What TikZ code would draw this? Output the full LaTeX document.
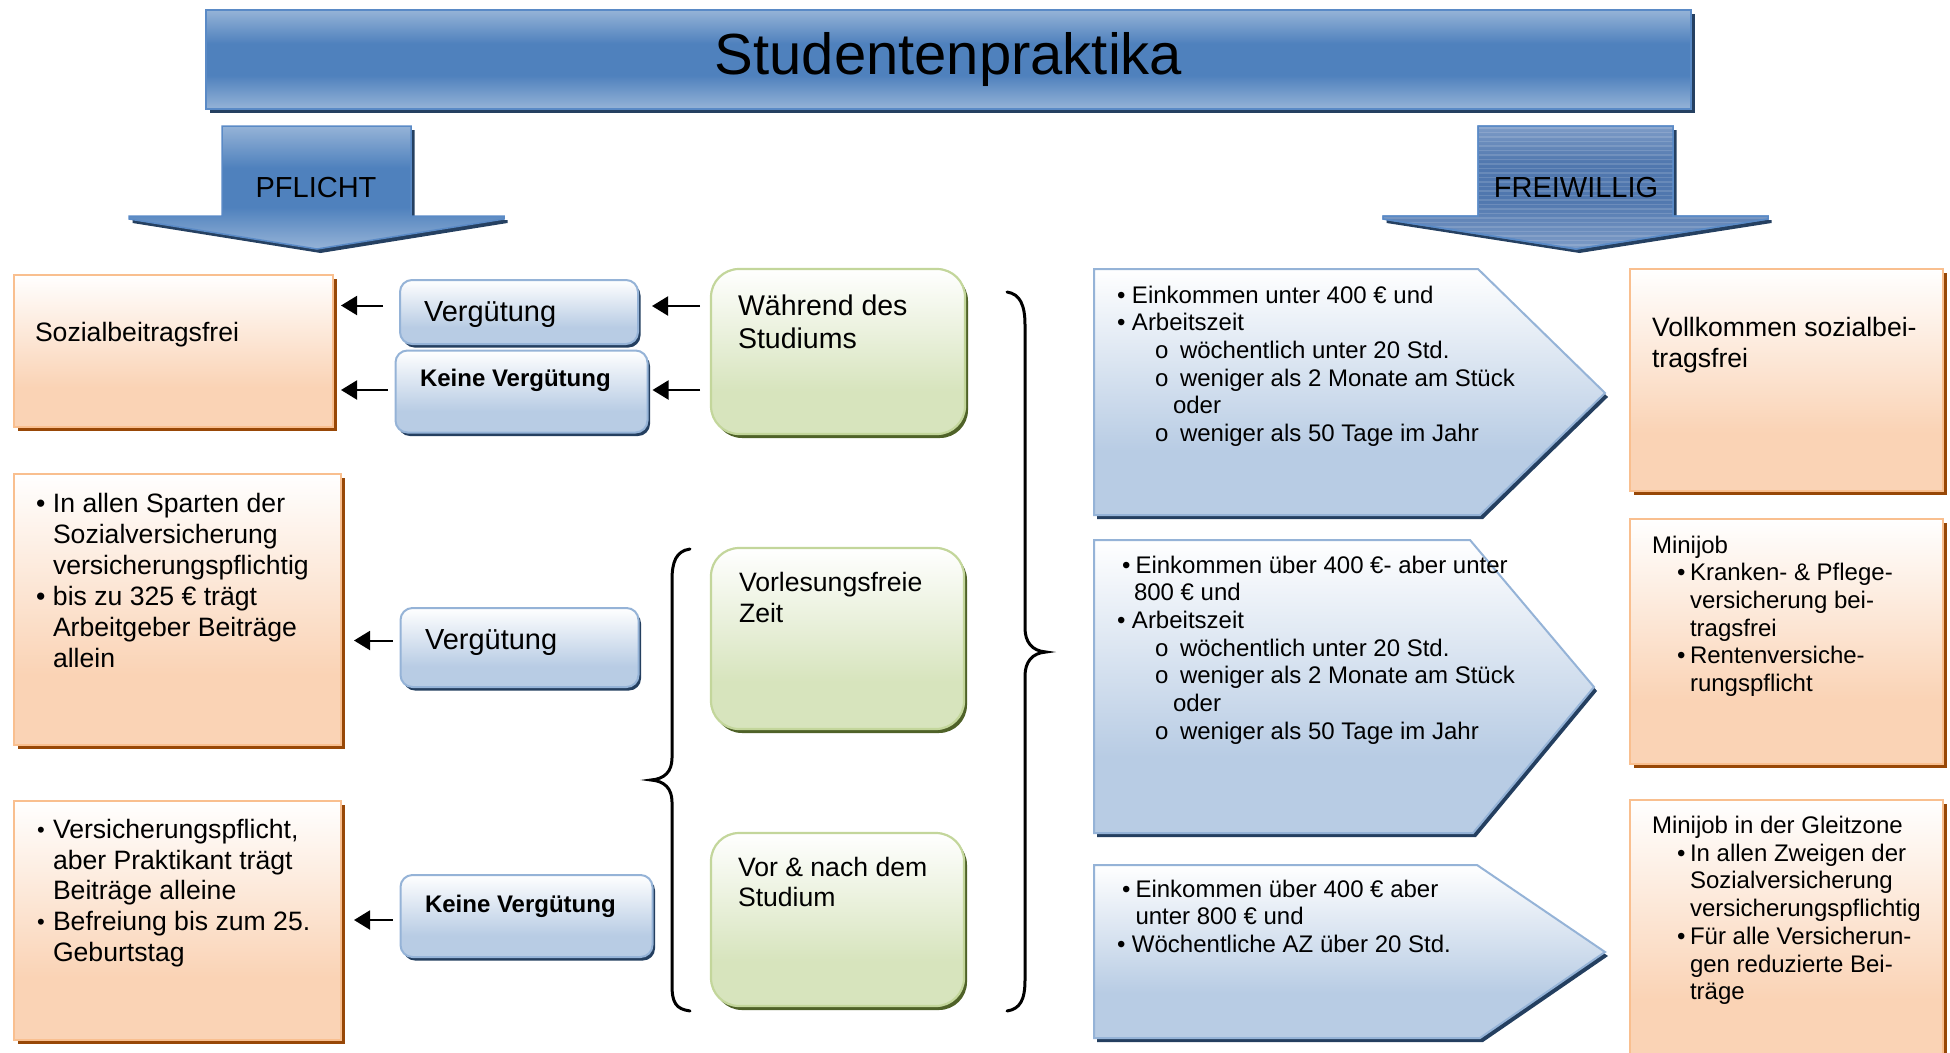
\documentclass[tikz,border=0pt]{standalone}
\usepackage{fontspec}
\setmainfont{Liberation Sans}
\usetikzlibrary{arrows.meta,shadows,calc}
\definecolor{bLight}{HTML}{95B3D7}
\definecolor{bDark}{HTML}{4F81BD}
\definecolor{bEdge}{HTML}{5A8AC6}
\definecolor{bShadow}{HTML}{254061}
\definecolor{frLight}{HTML}{7E9CC7}
\definecolor{frDark}{HTML}{5077AE}
\definecolor{oFill}{HTML}{FAD3B5}
\definecolor{oEdge}{HTML}{F9BF8F}
\definecolor{oShadow}{HTML}{984807}
\definecolor{pFill}{HTML}{B8CCE4}
\definecolor{pEdge}{HTML}{95B3D7}
\definecolor{pShadow}{HTML}{243F60}
\definecolor{gFill}{HTML}{D7E4BD}
\definecolor{gEdge}{HTML}{C3D69B}
\definecolor{gShadow}{HTML}{4F6228}
\pgfdeclareverticalshading{titleshade}{100bp}{color(0bp)=(bLight); color(25bp)=(bLight); color(42bp)=(bDark); color(58bp)=(bDark); color(75bp)=(bLight); color(100bp)=(bLight)}
\pgfdeclareverticalshading{frshade}{100bp}{color(0bp)=(frLight); color(25bp)=(frLight); color(45bp)=(frDark); color(60bp)=(frDark); color(75bp)=(frLight); color(100bp)=(frLight)}
\pgfdeclareverticalshading{orshade}{100bp}{color(0bp)=(oFill); color(25bp)=(oFill); color(38bp)=(oFill); color(75bp)=(white); color(100bp)=(white)}
\pgfdeclareverticalshading{blshade}{100bp}{color(0bp)=(pFill); color(25bp)=(pFill); color(38bp)=(pFill); color(75bp)=(white); color(100bp)=(white)}
\pgfdeclareverticalshading{grshade}{100bp}{color(0bp)=(gFill); color(25bp)=(gFill); color(38bp)=(gFill); color(75bp)=(white); color(100bp)=(white)}
\newcommand{\sbul}{{\fontsize{22}{22}\selectfont\raisebox{1pt}{•}}}
\newcommand{\subo}{\hspace*{38pt}\makebox[25pt][l]{o}}
\begin{document}
\begin{tikzpicture}[x=1pt, y=-1pt,
  every node/.style={inner sep=0pt, outer sep=0pt},
  obox/.style={draw=oEdge, line width=2.2pt, shade, shading=orshade, anchor=north west,
    general shadow={fill=oShadow, shadow xshift=3.5pt, shadow yshift=-4pt}},
  bbox/.style={draw=pEdge, line width=2pt, rounded corners=12pt, shade, shading=blshade, anchor=north west,
    general shadow={fill=pShadow, shadow xshift=2.5pt, shadow yshift=-3.5pt}},
  gbox/.style={draw=gEdge, line width=2.2pt, rounded corners=28pt, shade, shading=grshade, anchor=north west,
    general shadow={fill=gShadow, shadow xshift=3pt, shadow yshift=-4pt}},
  pent/.style={draw=pEdge, line width=2pt, shade, shading=blshade,
    general shadow={fill=pShadow, shadow xshift=3pt, shadow yshift=-4pt}},
  tbox/.style={draw=bEdge, line width=2pt, shade, shading=titleshade, anchor=north west,
    general shadow={fill=bShadow, shadow xshift=3.5pt, shadow yshift=-4pt}},
  parrow/.style={draw=bEdge, line width=1.5pt, shade, shading=titleshade,
    general shadow={fill=bShadow, shadow xshift=3.5pt, shadow yshift=-4pt}},
  arr/.style={-{Triangle[length=16pt,width=19pt]}, line width=2pt},
  brace/.style={line width=3pt, line cap=round},
  t26/.style={anchor=base west, font=\fontsize{26.6}{31}\selectfont},
  t24/.style={anchor=base west, font=\fontsize{24}{27.7}\selectfont},
]
\clip (0,0) rectangle (1950,1052);

% title
\node[tbox, minimum width=1485pt, minimum height=99pt] (title) at (206,10) {\fontsize{58}{60}\selectfont Studentenpraktika};

% PFLICHT arrow
\path[parrow] (222,126) -- (411,126) -- (411,216) -- (504,216) -- (504,219) -- (317,249) -- (129,219) -- (129,216) -- (222,216) -- cycle;
\node[font=\fontsize{29}{30}\selectfont] (pflicht) at (316,188) {PFLICHT};

% FREIWILLIG arrow
\path[draw=bEdge, line width=1.5pt, shade, shading=frshade, general shadow={fill=bShadow, shadow xshift=3.5pt, shadow yshift=-4pt}]
  (1478,126) -- (1673,126) -- (1673,216) -- (1768,216) -- (1768,219) -- (1576,249) -- (1383,219) -- (1383,216) -- (1478,216) -- cycle;
\begin{scope}
\clip (1478,126) -- (1673,126) -- (1673,216) -- (1768,216) -- (1768,219) -- (1576,249) -- (1383,219) -- (1383,216) -- (1478,216) -- cycle;
\foreach \yy in {128,132.5,...,250} \draw[white, opacity=0.14, line width=1.3pt] (1380,\yy) -- (1772,\yy);
\end{scope}
\draw[bEdge, line width=1.5pt] (1478,126) -- (1673,126) -- (1673,216) -- (1768,216) -- (1768,219) -- (1576,249) -- (1383,219) -- (1383,216) -- (1478,216) -- cycle;
\node[font=\fontsize{29}{30}\selectfont] (freiwillig) at (1576,188) {FREIWILLIG};

% left orange boxes
\node[obox, minimum width=319pt, minimum height=152pt] (soz) at (14,275) {};
\node[obox, minimum width=327pt, minimum height=271pt] (pfl2) at (14,474) {};
\node[obox, minimum width=327pt, minimum height=239pt] (pfl3) at (14,801) {};

% blue small boxes
\node[bbox, minimum width=238pt, minimum height=64pt] (verg1) at (400,280) {};
\node[bbox, minimum width=252pt, minimum height=82pt] (keine1) at (395.5,350.5) {};
\node[bbox, minimum width=238pt, minimum height=79pt] (verg2) at (400.5,608) {};
\node[bbox, minimum width=252pt, minimum height=82pt] (keine2) at (400.5,875) {};

% green boxes
\node[gbox, minimum width=254pt, minimum height=165pt] (gr1) at (711,269) {};
\node[gbox, minimum width=253pt, minimum height=181pt] (gr2) at (711,548) {};
\node[gbox, minimum width=253pt, minimum height=173pt] (gr3) at (711,833) {};

% right orange boxes
\node[obox, minimum width=313pt, minimum height=222pt] (fr1) at (1630,269) {};
\node[obox, minimum width=313pt, minimum height=245pt] (fr2) at (1630,519) {};
\node[obox, minimum width=313pt, minimum height=270pt] (fr3) at (1630,800) {};

% pentagons
\path[pent] (1094,269) -- (1478,269) -- (1605,393) -- (1480,515) -- (1094,515) -- cycle;
\path[pent] (1094,540) -- (1470,540) -- (1594,687) -- (1473,833) -- (1094,833) -- cycle;
\path[pent] (1094,865) -- (1477,865) -- (1605,952) -- (1480,1038) -- (1094,1038) -- cycle;

% braces
\draw[brace] (690,549) .. controls (676,551) and (672,562) .. (672,580) -- (672,758) .. controls (672,772) and (664,779) .. (651,780) .. controls (664,781) and (672,788) .. (672,802) -- (672,985) .. controls (672,1003) and (676,1009) .. (690,1011);
\draw[brace] (1007,292) .. controls (1020,294) and (1025,305) .. (1025,325) -- (1025,628) .. controls (1025,642) and (1032,651) .. (1046,652) .. controls (1032,653) and (1025,662) .. (1025,676) -- (1025,980) .. controls (1025,1000) and (1020,1009) .. (1007,1011);

% arrows
\draw[arr, shorten <=11pt, shorten >=14pt] ($(gr1.west |- verg1.east)+(0,-6)$) -- ($(verg1.east)+(0,-6)$);
\draw[arr, shorten <=11pt, shorten >=5pt] ($(gr1.west |- keine1.east)+(0,-1.5)$) -- ($(keine1.east)+(0,-1.5)$);
\draw[arr, shorten <=17pt, shorten >=8pt] ($(verg1.west)+(0,-6.5)$) -- ($(verg1.west -| soz.east)+(0,-6.5)$);
\draw[arr, shorten <=8pt, shorten >=8pt] ($(keine1.west)+(0,-1.5)$) -- ($(keine1.west -| soz.east)+(0,-1.5)$);
\draw[arr, shorten <=8pt, shorten >=13pt] ($(verg2.west)+(0,-7)$) -- ($(verg2.west -| pfl2.east)+(0,-7)$);
\draw[arr, shorten <=8pt, shorten >=13pt] ($(keine2.west)+(0,4)$) -- ($(keine2.west -| pfl3.east)+(0,4)$);

% texts left
\node[t26] (tsoz) at (35,341.5) {Sozialbeitragsfrei};
\node[t26] (tpfl2) at (36,512.5) {\parbox[t]{320pt}{\makebox[17pt][l]{•}In allen Sparten der\\
\hspace*{17pt}Sozialversicherung\\
\hspace*{17pt}versicherungspflichtig\\
\makebox[17pt][l]{•}bis zu 325 € trägt\\
\hspace*{17pt}Arbeitgeber Beiträge\\
\hspace*{17pt}allein}};
\node[t26, font=\fontsize{26.6}{30.7}\selectfont] (tpfl3) at (37,838.5) {\parbox[t]{320pt}{\makebox[16pt][l]{\sbul}Versicherungspflicht,\\
\hspace*{16pt}aber Praktikant trägt\\
\hspace*{16pt}Beiträge alleine\\
\makebox[16pt][l]{\sbul}Befreiung bis zum 25.\\
\hspace*{16pt}Geburtstag}};

% blue box texts
\node[anchor=base west, font=\fontsize{29}{30}\selectfont] (tv1) at (424,321) {Vergütung};
\node[anchor=base west, font=\bfseries\fontsize{24}{26}\selectfont] (tk1) at (420,386.5) {Keine Vergütung};
\node[anchor=base west, font=\fontsize{29}{30}\selectfont] (tv2) at (425,649.5) {Vergütung};
\node[anchor=base west, font=\bfseries\fontsize{24}{26}\selectfont] (tk2) at (425,912.5) {Keine Vergütung};

% green texts
\node[t26, font=\fontsize{28.5}{33}\selectfont] (tg1) at (738,315) {\parbox[t]{240pt}{Während des\\Studiums}};
\node[t26] (tg2) at (739,591.5) {\parbox[t]{240pt}{Vorlesungsfreie\\Zeit}};
\node[t26, font=\fontsize{26.6}{30}\selectfont] (tg3) at (738,876.5) {\parbox[t]{240pt}{Vor \& nach dem\\Studium}};

% pentagon texts
\node[t24] (tp1) at (1117,303) {\parbox[t]{480pt}{\makebox[15pt][l]{•}Einkommen unter 400 € und\\
\makebox[15pt][l]{•}Arbeitszeit\\
\subo wöchentlich unter 20 Std.\\
\subo weniger als 2 Monate am Stück\\
\hspace*{56pt}oder\\
\subo weniger als 50 Tage im Jahr}};
\node[t24] (tp2) at (1117,573) {\parbox[t]{480pt}{\hspace*{5pt}\makebox[13.5pt][l]{•}Einkommen über 400 €- aber unter\\
\hspace*{17pt}800 € und\\
\makebox[15pt][l]{•}Arbeitszeit\\
\subo wöchentlich unter 20 Std.\\
\subo weniger als 2 Monate am Stück\\
\hspace*{56pt}oder\\
\subo weniger als 50 Tage im Jahr}};
\node[t24] (tp3) at (1117,897) {\parbox[t]{480pt}{\hspace*{5pt}\makebox[13.5pt][l]{•}Einkommen über 400 € aber\\
\hspace*{18.5pt}unter 800 € und\\
\makebox[15pt][l]{•}Wöchentliche AZ über 20 Std.}};

% right box texts
\node[t26] (tr1) at (1652,336) {\parbox[t]{290pt}{Vollkommen sozialbei-\\tragsfrei}};
\node[t24] (tr2) at (1652,553) {\parbox[t]{290pt}{Minijob\\
\hspace*{25pt}\makebox[13pt][l]{•}Kranken- \& Pflege-\\
\hspace*{38pt}versicherung bei-\\
\hspace*{38pt}tragsfrei\\
\hspace*{25pt}\makebox[13pt][l]{•}Rentenversiche-\\
\hspace*{38pt}rungspflicht}};
\node[t24] (tr3) at (1652,833.5) {\parbox[t]{290pt}{Minijob in der Gleitzone\\
\hspace*{25pt}\makebox[13pt][l]{•}In allen Zweigen der\\
\hspace*{38pt}Sozialversicherung\\
\hspace*{38pt}versicherungspflichtig\\
\hspace*{25pt}\makebox[13pt][l]{•}Für alle Versicherun-\\
\hspace*{38pt}gen reduzierte Bei-\\
\hspace*{38pt}träge}};
\end{tikzpicture}
\end{document}
